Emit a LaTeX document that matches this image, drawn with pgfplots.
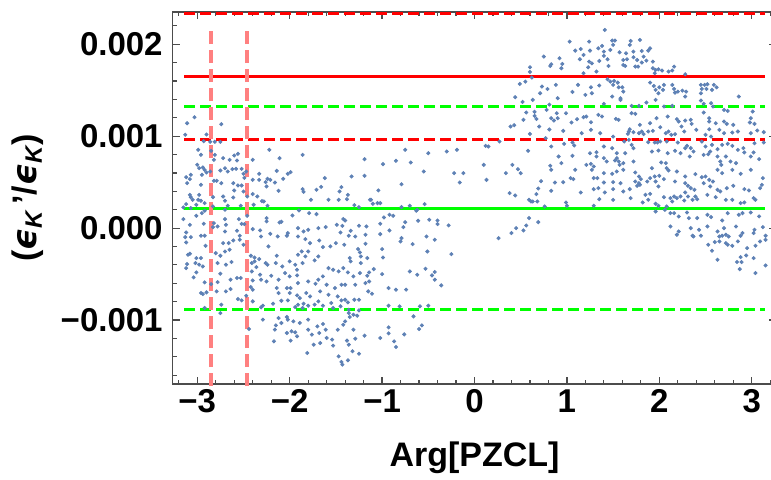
\documentclass[border=0pt]{standalone}
\usepackage{fontspec}
\setmainfont{Liberation Sans}
\newfontfamily\dejavu{DejaVu Sans}
\usepackage{pgfplots}
\pgfplotsset{compat=1.18}
\definecolor{ptblue}{rgb}{0.368,0.507,0.710}
\definecolor{framegray}{gray}{0.3}
\definecolor{mgreen}{rgb}{0,1,0}
\definecolor{mpink}{rgb}{1,0.5,0.5}
\newcommand\epsK{{\dejavu\bfseries\itshape ϵ}\textsubscript{\bfseries\itshape K}}
\begin{document}
\begin{tikzpicture}
\begin{axis}[
 scale only axis, width=301.9pt, height=186pt,
 xmin=-3.267, xmax=3.267, ymin=-0.001696, ymax=0.002351,
 axis line style={framegray, line width=0.6pt},
 tick style={framegray, line width=0.6pt},
 tick align=inside,
 major tick length=3.5pt, minor tick length=2pt,
 xtick={-3,-2,-1,0,1,2,3},
 xticklabels={−3,−2,−1,0,1,2,3},
 minor xtick={-3.2,-2.8,-2.6,-2.4,-2.2,-1.8,-1.6,-1.4,-1.2,-0.8,-0.6,-0.4,-0.2,0.2,0.4,0.6,0.8,1.2,1.4,1.6,1.8,2.2,2.4,2.6,2.8,3.2},
 ytick={-0.001,0,0.001,0.002},
 yticklabels={−0.001,0.000,0.001,0.002},
 minor ytick={-0.0016,-0.0014,-0.0012,-0.0008,-0.0006,-0.0004,-0.0002,0.0002,0.0004,0.0006,0.0008,0.0012,0.0014,0.0016,0.0018,0.0022},
 scaled y ticks=false,
 ticklabel style={font=\fontsize{16.5}{19}\selectfont\bfseries},
 xticklabel style={inner sep=0pt, yshift=-2.75pt},
 yticklabel style={inner sep=0pt, xshift=-4.8pt},
 label style={font=\fontsize{17}{20}\selectfont\bfseries},
 xlabel={Arg[PZCL]},
 xlabel style={at={(axis description cs:0.5,-0.2204)}, anchor=base},
 ylabel={(\epsK\,'/\epsK)},
 ylabel style={at={(axis description cs:-0.2395,0.5)}, anchor=center},
 clip=false,
 pts/.style={only marks, mark=*, mark size=0.8pt, color=ptblue, mark options={draw=none, fill=ptblue}},
]
% left cluster, upper part
\addplot[pts] coordinates {(-3.03,0.001207) (-3.11,0.001141) (-2.74,0.001131) (-3.13,0.001015) (-2.90,0.001018) (-2.93,0.000946) (-2.86,0.000939) (-2.81,0.000939) (-2.75,0.000939) (-2.99,0.000852) (-2.85,0.000841) (-2.96,0.000797) (-2.81,0.000797) (-2.82,0.000743) (-2.72,0.000761) (-2.65,0.000743) (-2.60,0.000790) (-2.56,0.000808) (-2.57,0.000736) (-2.40,0.000743) (-2.22,0.000852) (-2.11,0.000761) (-1.86,0.000797) (-1.19,0.000750) (-3.00,0.000689) (-2.98,0.000652) (-2.94,0.000660) (-2.92,0.000634) (-2.90,0.000605) (-2.95,0.000580) (-3.07,0.000580) (-3.12,0.000554) (-3.08,0.000533) (-3.11,0.000489) (-2.86,0.000616) (-2.75,0.000627) (-2.70,0.000652) (-2.67,0.000616) (-2.62,0.000641) (-2.58,0.000645) (-2.52,0.000645) (-2.50,0.000591) (-2.47,0.000616) (-2.40,0.000525) (-2.33,0.000591) (-2.24,0.000536) (-2.21,0.000525) (-2.14,0.000623) (-2.02,0.000591) (-1.99,0.000609) (-2.07,0.000536) (-2.16,0.000496) (-2.26,0.000500) (-2.33,0.000525) (-2.49,0.000547) (-2.82,0.000515) (-2.79,0.000515) (-2.74,0.000489) (-2.61,0.000489) (-2.56,0.000464) (-2.52,0.000464) (-2.60,0.000410) (-2.50,0.000399) (-2.40,0.000370) (-2.35,0.000344) (-2.30,0.000294) (-2.25,0.000453) (-2.12,0.000406) (-1.86,0.000424) (-1.85,0.000395) (-1.71,0.000417) (-1.66,0.000449) (-1.62,0.000544) (-1.44,0.000446) (-1.33,0.000562) (-1.19,0.000569) (-1.46,0.000399) (-1.37,0.000362) (-1.38,0.000315) (-1.47,0.000308) (-1.77,0.000308) (-1.58,0.000308) (-1.30,0.000250) (-1.25,0.000228) (-1.13,0.000308) (-2.96,0.000471) (-2.98,0.000362) (-3.08,0.000362) (-3.07,0.000337) (-3.05,0.000308) (-2.99,0.000308) (-2.96,0.000297) (-2.92,0.000272) (-3.12,0.000261) (-3.15,0.000225) (-3.07,0.000218) (-3.01,0.000254) (-2.92,0.000189) (-2.83,0.000337) (-2.72,0.000344) (-2.70,0.000297) (-2.67,0.000243) (-2.83,0.000236) (-2.61,0.000333) (-2.53,0.000243) (-2.46,0.000344) (-2.39,0.000254) (-2.28,0.000290) (-2.24,0.000243) (-1.90,0.000192) (-1.79,0.000163) (-1.71,0.000152) (-3.15,0.000098) (-3.08,0.000036) (-3.01,0.000134) (-2.95,0.000163) (-2.93,0.000047) (-2.82,0.000054) (-2.83,0.000011) (-2.70,0.000199) (-2.70,0.000098) (-2.69,0.000036) (-2.55,0.000098) (-2.52,0.000047) (-2.49,0.000044) (-2.46,0.000134) (-2.40,-0.000011) (-2.32,-0.000025) (-2.25,0.000109) (-2.25,0.000073) (-2.11,0.000062) (-2.09,0.000069) (-1.97,0.000138) (-1.91,0.000000) (-1.85,-0.000036) (-1.80,-0.000018) (-1.69,0.000000) (-1.61,0.000011) (-1.49,0.000036) (-1.42,0.000098) (-1.40,0.000083) (-1.43,0.000025) (-1.34,-0.000029) (-1.25,0.000025) (-1.17,0.000018) (-3.12,-0.000047) (-3.13,-0.000098) (-3.07,-0.000098) (-2.96,-0.000083) (-2.92,-0.000083) (-2.78,0.000018) (-2.70,-0.000036) (-2.57,-0.000029) (-2.54,-0.000083) (-2.31,-0.000091) (-2.21,-0.000062) (-2.13,-0.000091) (-2.03,-0.000083) (-2.02,-0.000054) (-1.91,-0.000091) (-1.83,-0.000120) (-1.45,-0.000047) (-1.36,-0.000083) (-1.29,-0.000091) (-1.18,-0.000072)};
% left cluster, lower part
\addplot[pts] coordinates {(-3.12,-0.000156) (-2.91,-0.000192) (-3.10,-0.000290) (-3.08,-0.000279) (-3.01,-0.000326) (-2.96,-0.000326) (-3.11,-0.000391) (-3.12,-0.000435) (-3.02,-0.000380) (-2.98,-0.000398) (-2.94,-0.000417) (-3.01,-0.000482) (-3.04,-0.000536) (-2.92,-0.000590) (-2.80,-0.000272) (-2.75,-0.000301) (-2.70,-0.000254) (-2.65,-0.000235) (-2.66,-0.000163) (-2.72,-0.000163) (-2.61,-0.000134) (-2.54,-0.000127) (-2.50,-0.000181) (-2.42,-0.000301) (-2.38,-0.000320) (-2.38,-0.000362) (-2.41,-0.000380) (-2.23,-0.000199) (-2.33,-0.000337) (-2.26,-0.000380) (-2.24,-0.000398) (-2.14,-0.000301) (-2.15,-0.000380) (-2.08,-0.000417) (-2.00,-0.000362) (-1.94,-0.000398) (-1.91,-0.000290) (-1.87,-0.000254) (-1.86,-0.000380) (-1.80,-0.000254) (-1.83,-0.000308) (-1.73,-0.000351) (-1.69,-0.000308) (-1.78,-0.000163) (-1.68,-0.000134) (-1.64,-0.000206) (-1.56,-0.000199) (-1.50,-0.000163) (-1.41,-0.000181) (-1.35,-0.000326) (-1.34,-0.000362) (-1.24,-0.000264) (-1.23,-0.000308) (-1.23,-0.000380) (-1.16,-0.000326) (-1.18,-0.000170) (-1.26,-0.000228) (-2.78,-0.000380) (-2.69,-0.000398) (-2.63,-0.000369) (-2.75,-0.000496) (-2.78,-0.000587) (-2.85,-0.000609) (-2.79,-0.000688) (-2.69,-0.000688) (-2.64,-0.000561) (-2.57,-0.000543) (-2.53,-0.000543) (-2.41,-0.000471) (-2.36,-0.000424) (-2.32,-0.000507) (-2.40,-0.000569) (-2.42,-0.000641) (-2.40,-0.000670) (-2.31,-0.000561) (-2.25,-0.000580) (-2.20,-0.000518) (-2.12,-0.000561) (-2.05,-0.000489) (-2.00,-0.000525) (-1.92,-0.000453) (-1.92,-0.000514) (-1.91,-0.000598) (-1.99,-0.000652) (-2.03,-0.000652) (-2.00,-0.000706) (-1.92,-0.000732) (-1.89,-0.000761) (-2.02,-0.000786) (-2.14,-0.000652) (-2.12,-0.000706) (-2.09,-0.000790) (-2.18,-0.000822) (-2.29,-0.000844) (-2.31,-0.000862) (-2.40,-0.000797) (-2.47,-0.000735) (-2.52,-0.000786) (-2.56,-0.000772) (-2.64,-0.000663) (-2.74,-0.000833) (-2.92,-0.000869) (-2.96,-0.000706) (-2.94,-0.000717) (-2.90,-0.000699) (-2.75,-0.000924) (-2.44,-0.001098) (-1.80,-0.000580) (-1.72,-0.000605) (-1.69,-0.000561) (-1.64,-0.000525) (-1.58,-0.000435) (-1.53,-0.000453) (-1.47,-0.000471) (-1.42,-0.000435) (-1.37,-0.000482) (-1.31,-0.000525) (-1.24,-0.000489) (-1.16,-0.000518) (-1.82,-0.000706) (-1.78,-0.000743) (-1.67,-0.000688) (-1.60,-0.000616) (-1.51,-0.000652) (-1.44,-0.000616) (-1.40,-0.000616) (-1.29,-0.000616) (-1.18,-0.000598) (-1.15,-0.000688) (-1.58,-0.000725) (-1.55,-0.000815) (-1.48,-0.000743) (-1.44,-0.000786) (-1.40,-0.000779) (-1.37,-0.000808) (-1.30,-0.000779) (-1.25,-0.000779) (-1.69,-0.000797) (-1.64,-0.000844) (-1.73,-0.000833) (-1.80,-0.000844) (-1.85,-0.000822) (-1.91,-0.000833) (-1.94,-0.000859) (-1.86,-0.000869) (-1.53,-0.000869) (-1.45,-0.000851) (-1.25,-0.000895) (-1.36,-0.000888) (-1.36,-0.000924) (-1.31,-0.000942) (-1.27,-0.000953) (-2.03,-0.000967) (-2.02,-0.000996) (-1.96,-0.001014) (-1.89,-0.001032) (-2.09,-0.001032) (-2.15,-0.001058) (-2.12,-0.000978) (-2.29,-0.000996) (-2.16,-0.001105) (-2.03,-0.001141) (-1.98,-0.001123) (-1.94,-0.001134) (-1.92,-0.001177) (-1.99,-0.001224) (-2.17,-0.001232) (-1.80,-0.000996) (-1.80,-0.001105) (-1.70,-0.001069) (-1.64,-0.001043) (-1.61,-0.001105) (-1.68,-0.001141) (-1.76,-0.001159) (-1.74,-0.001268) (-1.67,-0.001250) (-1.60,-0.001195) (-1.54,-0.001213) (-1.53,-0.001279) (-1.48,-0.001105) (-1.42,-0.001051) (-1.40,-0.001014) (-1.35,-0.000967) (-1.31,-0.001105) (-1.38,-0.001224) (-1.36,-0.001268) (-1.29,-0.001203) (-1.19,-0.001170) (-1.81,-0.001358) (-1.47,-0.001395) (-1.44,-0.001456) (-1.43,-0.001485) (-1.37,-0.001438) (-1.32,-0.001340) (-1.25,-0.001366)};
% middle region
\addplot[pts] coordinates {(-1.12,0.000308) (-1.10,0.000265) (-1.05,0.000272) (-1.02,0.000272) (-1.04,0.000410) (-0.99,0.000696) (-0.85,0.000732) (-0.79,0.000478) (-0.75,0.000852) (-0.69,0.000714) (-0.55,0.000616) (-0.50,0.000815) (-0.30,0.000833) (-0.19,0.000852) (-0.22,0.000598) (-0.12,0.000598) (-0.16,0.000496) (0.10,0.000688) (0.13,0.000525) (0.12,0.000895) (0.15,0.000888) (0.27,0.000942) (0.34,0.000598) (0.41,0.000688) (0.47,0.000641) (0.50,0.000598) (0.38,0.000381) (0.44,0.000355) (0.58,0.000841) (0.60,0.001025) (0.39,0.001105) (0.43,0.001120) (0.53,0.001178) (0.56,0.001257) (0.65,0.001265) (0.65,0.001221) (0.67,0.001188) (0.70,0.001105) (0.78,0.001286) (0.81,0.001344) (0.52,0.001373) (0.63,0.001395) (0.83,0.001196) (0.86,0.001170) (0.90,0.001196) (0.89,0.001250) (0.99,0.001250) (0.96,0.001058) (0.81,0.001073) (0.77,0.000978) (0.83,0.000888) (0.91,0.000779) (0.94,0.000707) (0.82,0.000678) (0.83,0.000634) (0.97,0.000917) (0.72,0.000511) (0.69,0.000431) (0.67,0.000370) (0.83,0.000406) (0.87,0.000496) (0.96,0.000500) (0.99,0.000279) (0.59,0.000308) (0.61,0.000290) (0.63,0.000290) (0.68,0.000290) (0.76,0.000236) (1.00,0.000243) (-0.79,0.000228) (-0.70,0.000243) (-0.62,0.000199) (-0.63,0.000189) (-0.54,0.000261) (-0.98,0.000116) (-0.92,0.000145) (-0.88,0.000134) (-1.02,0.000047) (-0.77,0.000011) (-0.75,0.000065) (-0.61,0.000080) (-0.49,0.000091) (-0.40,0.000083) (-0.40,0.000044) (-0.28,0.000029) (-0.92,-0.000025) (-1.02,-0.000065) (-0.79,-0.000109) (-0.52,-0.000091) (-0.43,-0.000127) (0.26,-0.000109) (0.40,-0.000054) (0.45,0.000000) (0.53,-0.000025) (0.56,0.000029) (0.59,0.000109) (0.69,0.000065) (-0.80,-0.000145) (-0.67,-0.000174) (-1.00,-0.000228) (-0.99,-0.000319) (-0.51,-0.000254) (-0.25,-0.000283) (-1.09,-0.000446) (-1.14,-0.000482) (-1.00,-0.000500) (-0.70,-0.000471) (-0.62,-0.000507) (-0.53,-0.000442) (-0.43,-0.000478) (-0.46,-0.000514) (-0.43,-0.000561) (-0.36,-0.000623) (-1.14,-0.000580) (-1.11,-0.000714) (-0.93,-0.000652) (-0.85,-0.000670) (-0.74,-0.000670) (-0.93,-0.000844) (-0.81,-0.000851) (-0.59,-0.000851) (-0.50,-0.000844) (-0.66,-0.000960) (-0.93,-0.001080) (-0.57,-0.001058) (-0.60,-0.001098) (-1.02,-0.001195) (-0.93,-0.001145) (-0.76,-0.001156) (-0.87,-0.001232) (-0.85,-0.001293)};
% right cluster, lower/middle part
\addplot[pts] coordinates {(1.40,0.001352) (1.58,0.001395) (1.70,0.001330) (1.86,0.001366) (1.96,0.001395) (1.78,0.001330) (2.05,0.001323) (2.14,0.001330) (2.45,0.001388) (2.48,0.001352) (2.56,0.001359) (2.58,0.001323) (2.48,0.001257) (2.54,0.001196) (2.70,0.001286) (2.74,0.001275) (3.01,0.001268) (2.99,0.001196) (1.21,0.001214) (1.18,0.001207) (1.11,0.001185) (1.34,0.001232) (1.38,0.001214) (1.26,0.001152) (1.53,0.001188) (1.56,0.001178) (1.70,0.001250) (1.74,0.001243) (1.79,0.001123) (1.90,0.001141) (1.97,0.001196) (2.09,0.001214) (2.19,0.001185) (2.21,0.001159) (2.28,0.001170) (2.34,0.001178) (2.35,0.001134) (2.54,0.001159) (2.61,0.001141) (2.70,0.001159) (2.73,0.001134) (2.80,0.001123) (2.98,0.001149) (3.03,0.001134) (1.05,0.001149) (1.16,0.001033) (1.26,0.001069) (1.36,0.001033) (1.50,0.000996) (1.68,0.001076) (1.67,0.001051) (1.66,0.001025) (1.72,0.001044) (1.78,0.001033) (1.81,0.001051) (1.83,0.001022) (1.88,0.001051) (1.93,0.001058) (2.01,0.001098) (2.07,0.001033) (2.10,0.001051) (2.13,0.001015) (2.17,0.001022) (2.24,0.001105) (2.27,0.001051) (2.40,0.001069) (2.50,0.001015) (2.54,0.001076) (2.56,0.000996) (2.65,0.001069) (2.70,0.001033) (2.79,0.001040) (2.85,0.001051) (2.99,0.001033) (3.06,0.001062) (3.13,0.001044) (1.06,0.000931) (1.08,0.000899) (1.40,0.000888) (1.49,0.000870) (1.62,0.000942) (1.67,0.000960) (1.70,0.000906) (1.72,0.000870) (1.88,0.000935) (1.95,0.000931) (1.98,0.000931) (2.01,0.000942) (2.08,0.000942) (2.20,0.000931) (2.28,0.000870) (2.30,0.000895) (2.34,0.000870) (2.46,0.000942) (2.50,0.000888) (2.57,0.000906) (2.63,0.000859) (2.68,0.000906) (2.74,0.000917) (2.79,0.000895) (2.85,0.000852) (2.91,0.000870) (3.03,0.000924) (3.02,0.000823) (3.13,0.000931) (1.25,0.000815) (1.32,0.000826) (1.32,0.000779) (1.40,0.000761) (1.43,0.000725) (1.52,0.000736) (1.54,0.000815) (1.54,0.000761) (1.56,0.000725) (1.57,0.000688) (1.61,0.000707) (1.61,0.000634) (1.72,0.000725) (1.63,0.000815) (1.92,0.000833) (1.99,0.000844) (2.09,0.000815) (2.17,0.000841) (2.23,0.000815) (2.33,0.000779) (2.37,0.000833) (2.48,0.000797) (2.53,0.000804) (2.55,0.000833) (2.63,0.000779) (2.66,0.000725) (2.67,0.000688) (2.72,0.000779) (2.77,0.000725) (2.83,0.000707) (2.92,0.000823) (2.99,0.000779) (3.08,0.000750) (1.06,0.000786) (1.09,0.000634) (1.21,0.000688) (1.26,0.000699) (1.29,0.000670) (1.40,0.000598) (1.49,0.000591) (1.54,0.000616) (1.74,0.000605) (1.78,0.000562) (1.80,0.000533) (1.92,0.000652) (2.02,0.000714) (2.07,0.000707) (2.08,0.000652) (2.10,0.000627) (2.00,0.000569) (1.95,0.000562) (1.90,0.000544) (2.19,0.000616) (2.28,0.000562) (2.39,0.000587) (2.46,0.000554) (2.50,0.000562) (2.54,0.000525) (2.58,0.000507) (2.63,0.000634) (2.68,0.000598) (2.79,0.000634) (2.88,0.000591) (2.99,0.000634) (3.12,0.000544) (1.04,0.000544) (1.07,0.000533) (1.27,0.000634) (1.29,0.000544) (1.33,0.000544) (1.40,0.000496) (1.50,0.000500) (1.58,0.000489) (1.74,0.000507) (1.78,0.000489) (1.79,0.000471) (1.87,0.000507) (1.96,0.000507) (1.99,0.000453) (2.05,0.000533) (2.17,0.000507) (2.28,0.000489) (2.31,0.000460) (2.34,0.000435) (2.38,0.000417) (2.48,0.000489) (2.55,0.000453) (2.63,0.000417) (2.66,0.000399) (2.73,0.000435) (2.80,0.000460) (2.92,0.000424) (2.97,0.000410) (3.09,0.000435) (3.11,0.000471) (1.15,0.000388) (1.29,0.000424) (1.34,0.000435) (1.41,0.000388) (1.50,0.000424) (1.61,0.000399) (1.68,0.000424) (1.76,0.000460) (1.85,0.000362) (1.90,0.000373) (1.88,0.000308) (1.82,0.000279) (1.69,0.000326) (1.50,0.000308) (1.35,0.000315) (1.29,0.000243) (1.96,0.000265) (1.99,0.000243) (2.05,0.000337) (2.12,0.000326) (2.16,0.000344) (2.19,0.000326) (2.23,0.000344) (2.28,0.000388) (2.31,0.000344) (2.39,0.000344) (2.41,0.000315) (2.36,0.000308) (2.27,0.000301) (2.14,0.000290) (2.08,0.000236) (2.52,0.000362) (2.61,0.000337) (2.72,0.000308) (2.79,0.000308) (2.88,0.000272) (2.92,0.000279) (3.02,0.000326) (3.04,0.000308) (1.96,0.000181) (2.06,0.000199) (2.12,0.000163) (2.16,0.000163) (2.21,0.000127) (2.30,0.000170) (2.32,0.000109) (2.41,0.000109) (2.52,0.000145) (2.56,0.000120) (2.68,0.000083) (2.74,0.000163) (2.86,0.000145) (2.90,0.000163) (2.99,0.000170) (3.08,0.000127) (2.12,0.000018) (2.21,-0.000036) (2.34,0.000000) (2.43,-0.000018) (2.52,0.000018) (2.63,-0.000036) (2.70,0.000000) (2.72,-0.000072) (2.83,0.000018) (2.90,-0.000054) (3.03,-0.000018) (3.12,0.000011) (3.15,-0.000083) (2.19,-0.000072) (2.37,-0.000091) (2.45,-0.000083) (2.65,-0.000091) (2.75,-0.000091) (2.36,-0.000083) (2.68,-0.000083) (2.88,-0.000083) (3.02,-0.000054) (3.15,-0.000127) (3.09,-0.000145) (3.04,-0.000192) (2.95,-0.000217) (2.85,-0.000145) (2.79,-0.000192) (2.74,-0.000181) (2.72,-0.000163) (2.65,-0.000145) (2.60,-0.000152) (2.53,-0.000181) (2.57,-0.000246) (2.63,-0.000344) (2.84,-0.000369) (2.89,-0.000369) (2.88,-0.000315) (2.94,-0.000297) (3.02,-0.000326) (2.87,-0.000446) (3.04,-0.000489) (3.15,-0.000406)};
% right cluster, top part
\addplot[pts] coordinates {(1.41,0.002156) (1.03,0.002029) (1.24,0.002029) (1.49,0.002040) (1.52,0.002040) (1.50,0.001993) (1.69,0.002036) (1.68,0.001993) (1.79,0.002047) (1.09,0.001931) (1.15,0.001949) (1.25,0.001931) (1.38,0.001982) (1.34,0.001956) (1.18,0.001884) (1.14,0.001837) (1.24,0.001811) (1.27,0.001793) (1.23,0.001750) (1.40,0.001920) (1.47,0.001938) (1.40,0.001873) (1.35,0.001819) (1.44,0.001837) (1.45,0.001764) (1.57,0.001913) (1.64,0.001902) (1.61,0.001829) (1.65,0.001837) (1.61,0.001775) (1.63,0.001764) (1.72,0.001920) (1.81,0.001927) (1.88,0.001931) (1.90,0.001956) (1.72,0.001859) (1.76,0.001829) (1.83,0.001866) (1.86,0.001822) (1.81,0.001801) (1.74,0.001757) (1.77,0.001757) (1.93,0.001811) (1.93,0.001739) (1.96,0.001721) (1.95,0.001685) (1.99,0.001728) (2.03,0.001714) (2.10,0.001703) (2.14,0.001714) (2.16,0.001757) (2.28,0.001674) (1.18,0.001685) (1.32,0.001703) (0.94,0.001739) (0.92,0.001848) (0.95,0.001786) (0.75,0.001866) (0.82,0.001764) (0.83,0.001782) (0.60,0.001750) (0.60,0.001699) (0.62,0.001638) (0.49,0.001569) (0.55,0.001594) (0.73,0.001540) (0.79,0.001514) (0.88,0.001558) (1.06,0.001482) (1.12,0.001558) (1.26,0.001532) (1.27,0.001467) (1.35,0.001551) (1.20,0.001449) (1.44,0.001619) (1.47,0.001594) (1.51,0.001601) (1.50,0.001558) (1.55,0.001583) (1.56,0.001532) (1.60,0.001532) (1.61,0.001485) (1.58,0.001413) (1.49,0.001431) (1.90,0.001583) (1.94,0.001547) (2.00,0.001532) (2.05,0.001558) (2.04,0.001504) (1.96,0.001504) (1.99,0.001467) (2.14,0.001558) (2.16,0.001514) (2.20,0.001485) (2.25,0.001496) (2.29,0.001485) (2.17,0.001474) (2.28,0.001431) (2.45,0.001558) (2.49,0.001558) (2.52,0.001565) (2.51,0.001514) (2.46,0.001514) (2.59,0.001558) (2.62,0.001532) (2.57,0.001504) (2.45,0.001467) (2.86,0.001431) (0.44,0.001424) (0.71,0.001467) (0.90,0.001413)};
% reference lines
\addplot[mgreen, line width=1.6pt] coordinates {(-3.1416,0.000217) (3.1416,0.000217)};
\addplot[mgreen, line width=1.6pt, dash pattern=on 5.5pt off 2.5pt] coordinates {(-3.1416,0.001322) (3.1416,0.001322)};
\addplot[mgreen, line width=1.6pt, dash pattern=on 5.5pt off 2.5pt] coordinates {(-3.1416,-0.000888) (3.1416,-0.000888)};
\addplot[red, line width=1.6pt] coordinates {(-3.1416,0.001652) (3.1416,0.001652)};
\addplot[red, line width=1.6pt, dash pattern=on 5.5pt off 2.5pt] coordinates {(-3.1416,0.000967) (3.1416,0.000967)};
\addplot[red, line width=1.6pt, dash pattern=on 5.5pt off 2.5pt] coordinates {(-3.1416,0.002336) (3.1416,0.002336)};
\addplot[mpink, line width=1.7pt, dash pattern=on 6.5pt off 3pt] coordinates {(-2.852,-0.00172) (-2.852,0.00218)};
\addplot[mpink, line width=1.7pt, dash pattern=on 6.5pt off 3pt] coordinates {(-2.463,-0.00172) (-2.463,0.00218)};
\end{axis}
\pgfresetboundingbox
\useasboundingbox (-86.3pt,-47.5pt) rectangle (299.2pt,192pt);
\end{tikzpicture}
\end{document}
